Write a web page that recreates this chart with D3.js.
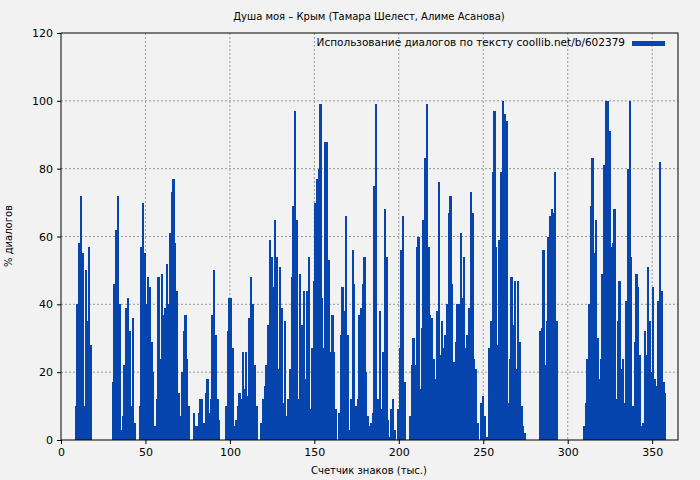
<!DOCTYPE html>
<html>
<head>
<meta charset="utf-8">
<script src="https://cdn.jsdelivr.net/npm/d3@7"></script>
<style>
  body { margin: 0; background: #f2f2f2; }
  text { font-family: "DejaVu Sans", sans-serif; }
</style>
</head>
<body>
<div class="chart"></div>
<script>
// % dialogue per thousand characters, index = thousand
const dialogPercent = [
  0,0,0,0,0,0,0,0,10,40, 58,72,55,10,50,35,57,28,0,0,
  0,0,0,0,0,0,0,0,0,0, 17,46,62,72,40,3,7,22,39,42,
  32,10,36,5,0,0,10,57,70,55, 40,48,45,29,20,4,12,48,24,49,
  37,39,52,40,61,73,77,58,44,14, 7,20,32,37,24,10,0,0,8,4,
  4,8,12,12,5,14,18,8,12,37, 50,31,12,6,0,0,0,10,32,42,
  42,27,4,6,10,14,12,26,15,26, 13,36,48,40,22,10,0,0,5,12,
  16,22,34,59,54,45,65,54,21,51, 39,11,35,7,12,21,48,69,97,65,
  12,49,34,44,18,44,54,9,27,47, 70,77,80,99,42,27,88,88,53,26,
  37,26,9,0,8,31,45,38,66,31, 3,12,56,46,10,12,37,39,46,54,
  20,7,4,5,8,75,99,12,38,9, 26,68,54,6,1,9,12,3,0,9,
  27,56,66,17,0,0,7,22,30,22, 57,60,15,33,65,83,99,57,37,36,
  24,18,38,76,25,35,27,31,40,67, 72,46,23,29,40,40,61,42,54,27,
  31,39,73,67,24,21,5,0,11,13, 7,1,1,27,35,79,97,57,28,59,
  79,100,96,94,11,24,48,34,47,21, 47,29,10,4,2,0,0,0,0,0,
  0,0,0,32,33,56,22,35,60,66, 68,67,79,35,0,0,0,0,0,0,
  0,0,0,0,0,0,0,0,0,4, 11,24,40,69,83,55,65,30,18,24,
  49,81,100,100,91,57,58,68,12,35, 47,21,24,11,41,80,100,54,10,29,
  49,45,25,4,5,32,25,51,35,20, 45,18,16,41,82,44,17,14
];
const xTicks = [0, 50, 100, 150, 200, 250, 300, 350];
const yTicks = [0, 20, 40, 60, 80, 100, 120];
const titleText = "Душа моя – Крым (Тамара Шелест, Алиме Асанова)";
const legendText = "Использование диалогов по тексту coollib.net/b/602379";

const W = 700, H = 480;
const m = { left: 61, right: 22, top: 33, bottom: 40 };
const barColor = "#0645ad";

const svg = d3.select(".chart").append("svg")
  .attr("width", W).attr("height", H);

svg.append("rect").attr("width", W).attr("height", H).attr("fill", "#f2f2f2");

const x = d3.scaleLinear().domain([0, 365.3]).range([m.left, W - m.right]);
const y = d3.scaleLinear().domain([0, 120]).range([H - m.bottom, m.top]);

// grid
svg.append("g").selectAll("line").data(xTicks.slice(1)).join("line")
  .attr("x1", d => x(d)).attr("x2", d => x(d))
  .attr("y1", m.top).attr("y2", H - m.bottom)
  .attr("stroke", "#999").attr("stroke-dasharray", "2,2");
svg.append("g").selectAll("line").data(yTicks.slice(1, -1)).join("line")
  .attr("x1", m.left).attr("x2", W - m.right)
  .attr("y1", d => y(d)).attr("y2", d => y(d))
  .attr("stroke", "#999").attr("stroke-dasharray", "2,2");

// bars
const bw = x(1) - x(0);
svg.append("g").attr("shape-rendering", "crispEdges").selectAll("rect")
  .data(dialogPercent.map((v, i) => ({ i, v })).filter(d => d.v > 0))
  .join("rect")
  .attr("x", d => x(d.i))
  .attr("width", bw + 0.6)
  .attr("y", d => y(d.v))
  .attr("height", d => y(0) - y(d.v))
  .attr("fill", barColor);

// frame
svg.append("rect")
  .attr("x", m.left).attr("y", m.top)
  .attr("width", W - m.left - m.right).attr("height", H - m.top - m.bottom)
  .attr("fill", "none").attr("stroke", "#000");

const xAxis = svg.append("g")
  .attr("transform", `translate(0,${H - m.bottom})`)
  .call(d3.axisBottom(x).tickValues(xTicks).tickSize(4).tickPadding(4));
const yAxis = svg.append("g")
  .attr("transform", `translate(${m.left},0)`)
  .call(d3.axisLeft(y).tickValues(yTicks).tickSize(4).tickPadding(4));
[xAxis, yAxis].forEach(a => {
  a.select(".domain").remove();
  a.selectAll("text").attr("font-size", 11).attr("font-family", "DejaVu Sans").attr("fill", "#000");
});

svg.append("text").attr("x", 369).attr("y", 20).attr("text-anchor", "middle")
  .attr("font-size", 10).text(titleText);
svg.append("text").attr("x", 369).attr("y", 474).attr("text-anchor", "middle")
  .attr("font-size", 10).text("Счетчик знаков (тыс.)");
svg.append("text").attr("transform", "translate(12,236) rotate(-90)")
  .attr("text-anchor", "middle").attr("font-size", 10).text("% диалогов");

svg.append("text").attr("x", 625).attr("y", 46).attr("text-anchor", "end")
  .attr("font-size", 10.5).text(legendText);
svg.append("rect").attr("x", 632).attr("y", 41).attr("width", 33).attr("height", 5)
  .attr("fill", barColor);
</script>
</body>
</html>
